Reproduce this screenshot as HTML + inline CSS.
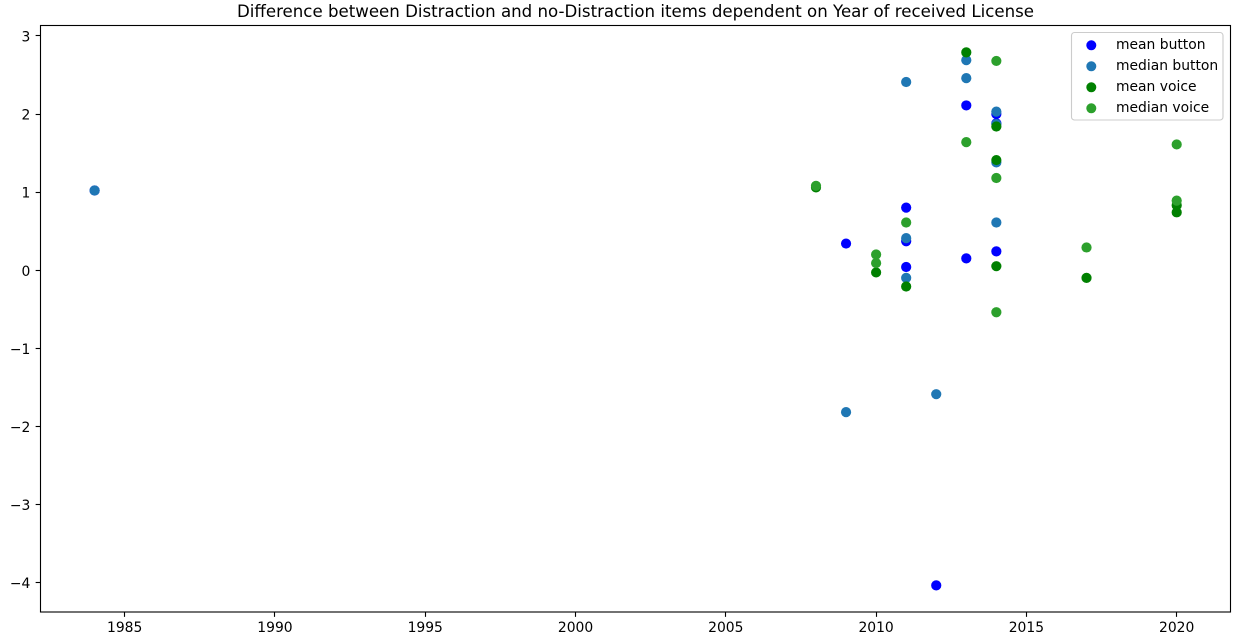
<!DOCTYPE html>
<html lang="en">
<head>
<meta charset="utf-8">
<title>Difference between Distraction and no-Distraction items</title>
<style>
html,body{margin:0;padding:0;background:#fff;width:1240px;height:642px;overflow:hidden}
svg{display:block;font-family:"DejaVu Sans","Liberation Sans",sans-serif;fill:#000}
</style>
</head>
<body>
<svg id="chart" width="1240" height="642" viewBox="0 0 1240 642" xmlns="http://www.w3.org/2000/svg">
  <rect x="0" y="0" width="1240" height="642" fill="#fff"/>
  <text x="635.5" y="17" font-size="16.67" text-anchor="middle" textLength="797" lengthAdjust="spacingAndGlyphs" fill="#000">Difference between Distraction and no-Distraction items dependent on Year of received License</text>
  <g id="ticks"></g>
  <g id="marks"></g>
  <rect x="40.5" y="25.5" width="1190" height="586.5" fill="none" stroke="#000" stroke-width="1.11"/>
  <g id="legend">
    <rect x="1071.5" y="32.5" width="151.5" height="87.5" rx="3" ry="3" fill="#fff" fill-opacity="0.8" stroke="#ccc" stroke-width="1.11"/>
  </g>
</svg>
<script>
const xTicks = [1985, 1990, 1995, 2000, 2005, 2010, 2015, 2020];
const yTicks = [3, 2, 1, 0, -1, -2, -3, -4];
const seriesNames = ["mean button", "median button", "mean voice", "median voice"];
const seriesColors = ["#0000ff", "#1f77b4", "#008000", "#2ca02c"];

const meanButtonYears = [1984, 2009, 2011, 2011, 2011, 2012, 2013, 2013, 2014, 2014, 2014];
const meanButtonValues = [1.02, 0.34, 0.80, 0.37, 0.04, -4.04, 2.11, 0.15, 2.00, 1.88, 0.24];

const medianButtonYears = [1984, 2009, 2011, 2011, 2011, 2012, 2013, 2013, 2014, 2014, 2014, 2014];
const medianButtonValues = [1.02, -1.82, 2.41, 0.41, -0.10, -1.59, 2.69, 2.46, 2.03, 1.87, 0.61, 1.38];

const meanVoiceYears = [2008, 2010, 2011, 2013, 2014, 2014, 2014, 2017, 2020, 2020];
const meanVoiceValues = [1.06, -0.03, -0.21, 2.79, 1.84, 1.41, 0.05, -0.10, 0.83, 0.74];

const medianVoiceYears = [2008, 2010, 2010, 2011, 2013, 2014, 2014, 2014, 2017, 2020, 2020];
const medianVoiceValues = [1.08, 0.20, 0.09, 0.61, 1.64, 2.68, 1.18, -0.54, 0.29, 1.61, 0.89];

const allYears = [meanButtonYears, medianButtonYears, meanVoiceYears, medianVoiceYears];
const allValues = [meanButtonValues, medianButtonValues, meanVoiceValues, medianVoiceValues];

const NS = "http://www.w3.org/2000/svg";
const plotLeft = 40.5, plotRight = 1230.5, plotTop = 25.5, plotBottom = 612;
const xDomainMin = 1982.2, xDomainMax = 2021.79;
const yDomainMin = -4.381, yDomainMax = 3.134;

function xScale(v) {
  return plotLeft + (v - xDomainMin) / (xDomainMax - xDomainMin) * (plotRight - plotLeft);
}
function yScale(v) {
  return plotBottom - (v - yDomainMin) / (yDomainMax - yDomainMin) * (plotBottom - plotTop);
}
function snap(p) {
  return Math.floor(p) + 0.5;
}
function make(tag, attrs) {
  const el = document.createElementNS(NS, tag);
  for (const k in attrs) el.setAttribute(k, attrs[k]);
  return el;
}
function fmt(v) {
  return v < 0 ? "\u2212" + Math.abs(v) : String(v);
}

const ticksGroup = document.getElementById("ticks");
xTicks.forEach(function (t) {
  const x = xScale(t);
  const line = make("line", { x1: snap(x), x2: snap(x), y1: plotBottom, y2: plotBottom + 4.86, stroke: "#000", "stroke-width": 1.11 });
  
  
  ticksGroup.appendChild(line);
  const label = make("text", { x: x, y: 632, "font-size": 13.89, "text-anchor": "middle" });
  
  
  label.textContent = fmt(t);
  ticksGroup.appendChild(label);
});
yTicks.forEach(function (t) {
  const y = yScale(t);
  const line = make("line", { x1: plotLeft - 4.86, x2: plotLeft, y1: snap(y), y2: snap(y), stroke: "#000", "stroke-width": 1.11 });
  
  
  ticksGroup.appendChild(line);
  const label = make("text", { x: 30.3, y: y + 5.7, "font-size": 13.89, "text-anchor": "end" });
  
  
  label.textContent = fmt(t);
  ticksGroup.appendChild(label);
});

const marksGroup = document.getElementById("marks");
allValues.forEach(function (values, s) {
  values.forEach(function (v, i) {
    const c = make("circle", {
      cx: xScale(allYears[s][i]),
      cy: yScale(v),
      r: 5.1,
      fill: seriesColors[s]
    });
    
    
    marksGroup.appendChild(c);
  });
});

const legendGroup = document.getElementById("legend");
seriesNames.forEach(function (name, i) {
  const cy = 45.3 + i * 21;
  const m = make("circle", { cx: 1091.3, cy: cy, r: 5.0, fill: seriesColors[i] });
  
  
  legendGroup.appendChild(m);
  const t = make("text", { x: 1116, y: cy + 3.8, "font-size": 13.89 });
  
  
  t.textContent = name;
  legendGroup.appendChild(t);
});
</script>
</body>
</html>
